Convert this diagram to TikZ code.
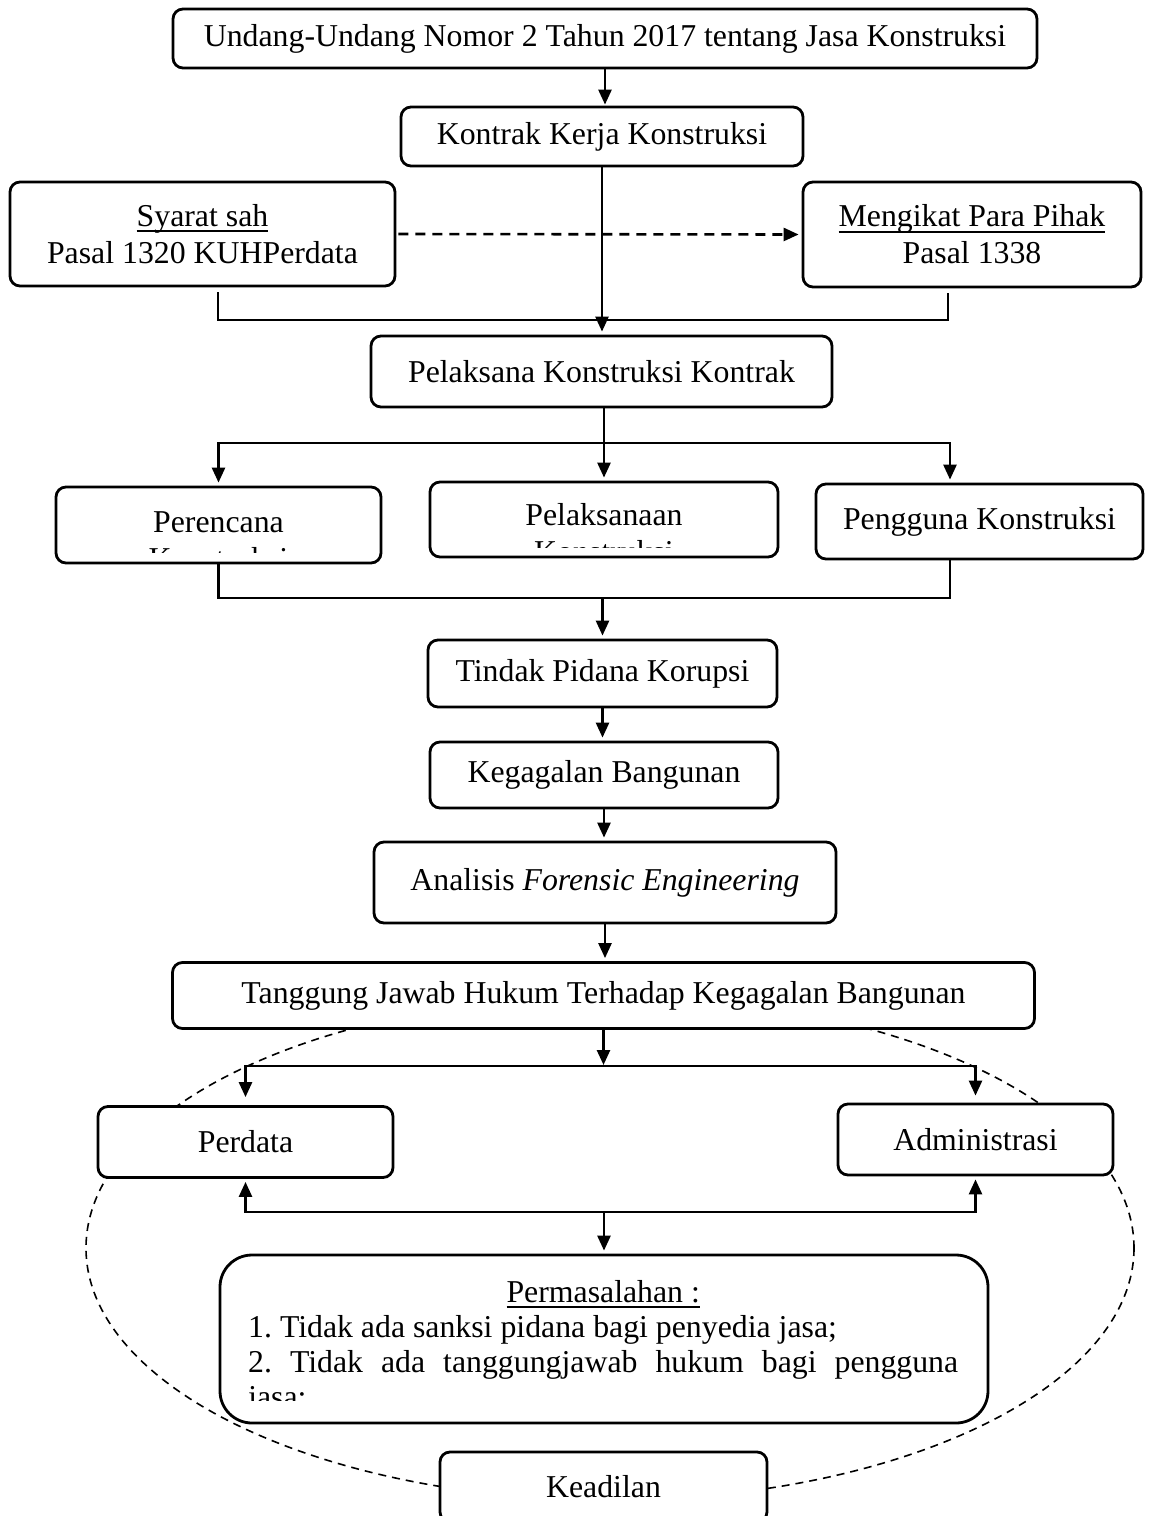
\documentclass[tikz,border=0pt]{standalone}
\usepackage{fontspec}
\setmainfont{Liberation Serif}
\usetikzlibrary{arrows.meta, positioning, calc}
\newcommand{\ukuranTeks}{\fontsize{31.8}{37}\selectfont}
\newcommand{\garis}[1]{\leavevmode\setbox0\hbox{#1}\rlap{\vrule width\wd0 height -4pt depth 6pt}\box0}
\tikzset{
  kotakDasar/.style={
    draw, line width=2.8pt, rounded corners=10pt,
    fill=white, inner sep=0pt, align=center, font=\ukuranTeks
  },
  kotakBulat/.style={kotakDasar, rounded corners=32pt},
  teksPotong/.style={inner sep=0pt, font=\ukuranTeks},
  panah/.style={-{Triangle[length=15pt, width=13pt]}, line width=2.6pt, line cap=rect, shorten >=3pt},
  panahPutus/.style={panah, line cap=butt, dash pattern=on 10pt off 7pt, shorten <=2pt},
  garisSambung/.style={line width=2.6pt, line cap=rect},
  elipsPutus/.style={line width=1.6pt, dash pattern=on 8pt off 6pt},
}

\begin{document}
\begin{tikzpicture}[x=1pt, y=-1pt]
  \path[use as bounding box, clip] (0,0) rectangle (1158,1516);
  % elips putus-putus di belakang kotak
  \draw[elipsPutus] (610,1248) ellipse [x radius=524, y radius=252];

  \node[kotakDasar, minimum width=864pt, minimum height=59pt] (uu) at (605,38.5) {Undang-Undang Nomor 2 Tahun 2017 tentang Jasa Konstruksi};
  \node[kotakDasar, minimum width=402pt, minimum height=59pt] (kontrak) at (602,136.5) {Kontrak Kerja Konstruksi};
  \node[kotakDasar, minimum width=385pt, minimum height=104pt] (syarat) at (202.5,234) {\garis{Syarat sah}\\Pasal 1320 KUHPerdata};
  \node[kotakDasar, minimum width=338pt, minimum height=105pt] (mengikat) at (972,234.5) {\garis{Mengikat Para Pihak}\\Pasal 1338};
  \node[kotakDasar, minimum width=461pt, minimum height=71pt] (pelaksana) at (601.5,371.5) {Pelaksana Konstruksi Kontrak};
  \node[kotakDasar, minimum width=325pt, minimum height=76pt] (perencana) at (218.5,525) {};
  \node[kotakDasar, minimum width=348pt, minimum height=75pt] (pelaksanaan) at (604,519.5) {};
  \node[kotakDasar, minimum width=327pt, minimum height=75pt] (pengguna) at (979.5,521.5) {Pengguna Konstruksi};
  \node[kotakDasar, minimum width=349pt, minimum height=67pt] (tindak) at (602.5,673.5) {Tindak Pidana Korupsi};
  \node[kotakDasar, minimum width=348pt, minimum height=66pt] (kegagalan) at (604,775) {Kegagalan Bangunan};
  \node[kotakDasar, minimum width=462pt, minimum height=81pt] (analisis) at (605,882.5) {Analisis \textit{Forensic Engineering}};
  \node[kotakDasar, minimum width=862pt, minimum height=66pt] (tanggung) at (603.5,995.5) {Tanggung Jawab Hukum Terhadap Kegagalan Bangunan};
  \node[kotakDasar, minimum width=295pt, minimum height=71pt] (perdata) at (245.5,1142) {Perdata};
  \node[kotakDasar, minimum width=275pt, minimum height=71pt] (admin) at (975.5,1139.5) {Administrasi};
  \node[kotakBulat, minimum width=768pt, minimum height=168pt] (masalah) at (604,1339) {};
  \node[kotakDasar, minimum width=327pt, minimum height=70pt] (keadilan) at (603.5,1487) {Keadilan};

  % teks yang terpotong oleh tepi kotak
  \begin{scope}
    \clip (perencana.north west) rectangle ([yshift=12pt]perencana.south east);
    \node[teksPotong, anchor=base] (perencanaTeks) at (218.5,532) {\begin{tabular}[t]{@{}c@{}}Perencana\\Konstruksi\end{tabular}};
  \end{scope}
  \begin{scope}
    \clip (pelaksanaan.north west) rectangle ([yshift=11pt]pelaksanaan.south east);
    \node[teksPotong, anchor=base] (pelaksanaanTeks) at (604,525) {\begin{tabular}[t]{@{}c@{}}Pelaksanaan\\Konstruksi\end{tabular}};
  \end{scope}
  \begin{scope}
    \clip (masalah.north west) rectangle ([yshift=24pt]masalah.south east);
    \node[teksPotong, anchor=base west] (masalahTeks) at (248,1302) {\parbox[t]{710pt}{\fontsize{31.8}{35}\selectfont\frenchspacing\tolerance=10000
      {\centering\garis{Permasalahan :}\par}
      1. Tidak ada sanksi pidana bagi penyedia jasa;\par
      2. Tidak ada tanggungjawab hukum bagi pengguna\linebreak jasa;}};
  \end{scope}

  % titik bantu
  \coordinate (simpul1) at (kontrak.south |- 0,320);
  \coordinate (cabang1) at (pelaksanaan.north |- 0,443);
  \coordinate (cabang2) at (tindak.north |- 0,598);
  \coordinate (cabang3) at (tanggung.south |- 0,1066);
  \coordinate (cabang4) at (masalah.north |- 0,1212);
  \coordinate (penggunaAtas) at ([xshift=-29.5pt]pengguna.north);
  \coordinate (penggunaBawah) at ([xshift=-29.5pt]pengguna.south);

  \draw[panah, shorten >=1pt] (uu.south) -- (uu.south |- kontrak.north);
  \draw[panah] (kontrak.south) -- (kontrak.south |- pelaksana.north);
  \draw[panahPutus] (syarat.east) -- (mengikat.west);
  \draw[garisSambung] ([shift={(15.5,6)}]syarat.south) |- (simpul1) -| ([shift={(-24,6)}]mengikat.south);

  \draw[panah] (pelaksana.south -| pelaksanaan.north) -- (pelaksanaan.north);
  \draw[garisSambung] (perencana.north |- cabang1) -- (penggunaAtas |- cabang1);
  \draw[panah] (perencana.north |- cabang1) -- (perencana.north);
  \draw[panah] (penggunaAtas |- cabang1) -- (penggunaAtas);

  \draw[garisSambung] (perencana.south) |- (cabang2) -| (penggunaBawah);
  \draw[panah] (cabang2) -- (tindak.north);
  \draw[panah] (tindak.south) -- (tindak.south |- kegagalan.north);
  \draw[panah] (kegagalan.south) -- (kegagalan.south |- analisis.north);
  \draw[panah] (analisis.south) -- (analisis.south |- tanggung.north);

  \draw[panah, shorten >=1pt] (tanggung.south) -- (cabang3);
  \draw[garisSambung] (perdata.north |- cabang3) -- (admin.north |- cabang3);
  \draw[panah, shorten >=8pt] (perdata.north |- cabang3) -- (perdata.north);
  \draw[panah, shorten >=7pt] (admin.north |- cabang3) -- (admin.north);

  \draw[garisSambung] (perdata.south |- cabang4) -- (admin.south |- cabang4);
  \draw[panah] (perdata.south |- cabang4) -- (perdata.south);
  \draw[panah] (admin.south |- cabang4) -- (admin.south);
  \draw[panah] (cabang4) -- (masalah.north);
\end{tikzpicture}
\end{document}
